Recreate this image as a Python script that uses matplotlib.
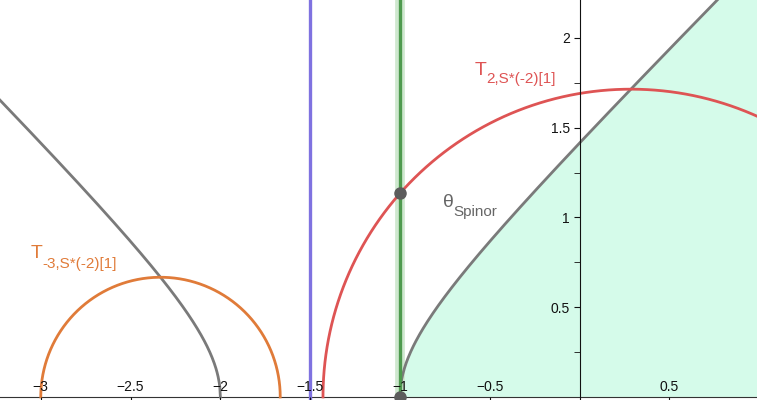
import numpy as np
import matplotlib.pyplot as plt
from matplotlib.ticker import MultipleLocator, FuncFormatter

# view window (data units)
x_min, x_max = -3.227, 0.988
y_min, y_max = -0.017, 2.211

# orange half circle T_{-3,S*(-2)[1]}
orange_center = -7 / 3
orange_radius = 2 / 3

# red half circle T_{2,S*(-2)[1]}
red_center = 2 / 7
red_radius = 12 / 7

# gray curve theta_Spinor: y^2 = (x - a)(x - b)
spinor_roots = [-1.0, -2.0]

# vertical lines
blue_x = -1.5
green_x = -1.0

x_ticks = [-3, -2.5, -2, -1.5, -1, -0.5, 0.5]
y_ticks = [0.5, 1, 1.5, 2]

ORANGE = "#e07b39"
RED = "#de5454"
GRAY = "#7a7a7a"
BLUE = "#7f72e0"
GREEN = "#4e9a4e"
GREEN_HALO = "#cfe8cf"
MINT = "#d5fbea"
POINT = "#5c5c5c"


def fmt(v, pos):
    return ("%g" % v).replace("-", "\u2212")


def main():
    plt.rcParams["font.family"] = ["Liberation Sans", "DejaVu Sans"]
    fig = plt.figure(figsize=(7.57, 4.0), dpi=100)
    ax = fig.add_axes([0, 0, 1, 1])
    ax.set_xlim(x_min, x_max)
    ax.set_ylim(y_min, y_max)

    a, b = spinor_roots

    # shaded region right of the spinor curve
    xs = np.linspace(a, x_max, 400)
    ys = np.sqrt((xs - a) * (xs - b))
    ax.fill_between(xs, 0, ys, color=MINT, lw=0, zorder=0)

    # spinor curve, both branches
    ax.plot(xs, ys, color=GRAY, lw=2.0, zorder=3)
    xl = np.linspace(x_min, b, 400)
    ax.plot(xl, np.sqrt((xl - a) * (xl - b)), color=GRAY, lw=2.0, zorder=3)

    # half circles
    t = np.linspace(0, np.pi, 500)
    ax.plot(orange_center + orange_radius * np.cos(t), orange_radius * np.sin(t),
            color=ORANGE, lw=2.0, zorder=3)
    ax.plot(red_center + red_radius * np.cos(t), red_radius * np.sin(t),
            color=RED, lw=2.0, zorder=3)

    # vertical lines
    ax.axvline(blue_x, color=BLUE, lw=2.4, zorder=3)
    ax.axvline(green_x, color=GREEN_HALO, lw=7, zorder=2)
    ax.axvline(green_x, color=GREEN, lw=2.4, zorder=3)

    # points
    py = np.sqrt(red_radius ** 2 - (green_x - red_center) ** 2)
    ax.plot([green_x, green_x], [py, 0], "o", color=POINT, ms=8, zorder=7,
            clip_on=False)

    # labels
    ax.text(-3.054, 0.774, "T", color=ORANGE, fontsize=14)
    ax.text(-2.993, 0.719, "-3,S*(-2)[1]", color=ORANGE, fontsize=11)
    ax.text(-0.582, 1.794, "T", color=RED, fontsize=14)
    ax.text(-0.521, 1.749, "2,S*(-2)[1]", color=RED, fontsize=11)
    ax.text(-0.760, 1.058, "\u03b8", color="#666666", fontsize=14)
    ax.text(-0.704, 1.008, "Spinor", color="#666666", fontsize=11)

    # axes through the origin
    for side in ["top", "right"]:
        ax.spines[side].set_visible(False)
    ax.spines["left"].set_position(("data", 0))
    ax.spines["bottom"].set_position(("data", 0))
    ax.spines["left"].set_color("#111111")
    ax.spines["bottom"].set_color("#333333")
    ax.spines["left"].set_zorder(4)
    ax.xaxis.set_zorder(6)

    ax.set_xticks(x_ticks)
    ax.set_yticks(y_ticks)
    ax.xaxis.set_major_formatter(FuncFormatter(fmt))
    ax.yaxis.set_major_formatter(FuncFormatter(fmt))
    ax.yaxis.set_minor_locator(MultipleLocator(0.25))
    ax.tick_params(axis="x", which="both", direction="out", length=4,
                   pad=-16, labelsize=10, colors="#111111")
    ax.tick_params(axis="y", which="both", direction="out", length=4,
                   pad=3, labelsize=10, colors="#111111")

    fig.savefig("out.png", dpi=100)


if __name__ == '__main__':
    main()
